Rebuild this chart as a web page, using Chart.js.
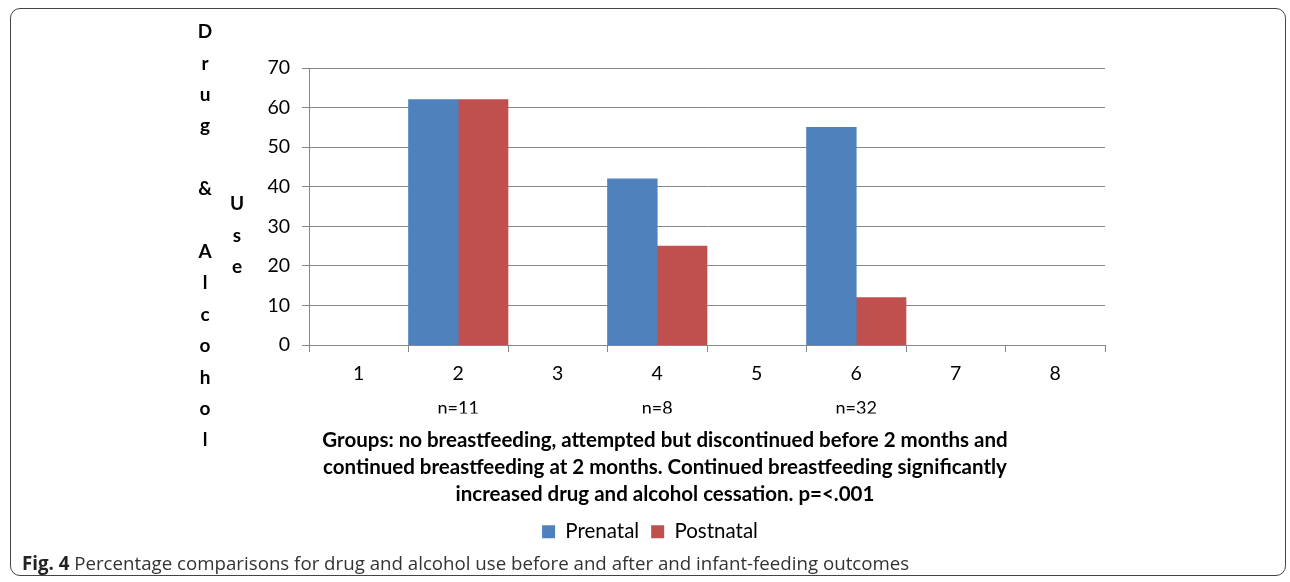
<!DOCTYPE html>
<html>
<head>
<meta charset="utf-8">
<script src="https://cdn.jsdelivr.net/npm/chart.js@4/dist/chart.umd.min.js"></script>
<style>
  html, body { margin: 0; padding: 0; background: #fff; }
  #wrap { position: relative; width: 1290px; height: 582px; overflow: hidden; }
  #frame {
    position: absolute; left: 10px; top: 8px; width: 1276px; height: 568px;
    border: 1px solid #444; border-radius: 10px; box-sizing: border-box;
  }
  #chart { position: absolute; left: 0; top: 0; }
  #caption {
    position: absolute; left: 22px; top: 550px;
    font-family: 'Open Sans', sans-serif; font-size: 18.7px; color: #333; white-space: nowrap;
  }
  #caption b { color: #222; }
</style>
</head>
<body>
<div id="wrap">
  <div id="frame"></div>
  <canvas id="chart" width="1290" height="582"></canvas>
  <div id="caption"><b>Fig. 4</b> Percentage comparisons for drug and alcohol use before and after and infant-feeding outcomes</div>
</div>
<script>
const categories = ['1', '2', '3', '4', '5', '6', '7', '8'];
const groupSizes = ['', 'n=11', '', 'n=8', '', 'n=32', '', ''];
const prenatal = [null, 62, null, 42, null, 55, null, null];
const postnatal = [null, 62, null, 25, null, 12, null, null];
const yMin = 0;
const yMax = 70;
const yStep = 10;
const yTitleCol1 = ['D', 'r', 'u', 'g', '', '&', '', 'A', 'l', 'c', 'o', 'h', 'o', 'l'];
const yTitleCol2 = ['U', 's', 'e'];
const xTitle = [
  'Groups: no breastfeeding, attempted but discontinued before 2 months and',
  'continued breastfeeding at 2 months. Continued breastfeeding significantly',
  'increased drug and alcohol cessation. p=<.001'
];

const FONT = 'Lato, sans-serif';

// Excel-style stacked vertical axis title, plus a small nudge of the bottom title
const stackedTitle = {
  id: 'stackedTitle',
  afterLayout(chart) {
    if (chart.titleBlock) chart.titleBlock.left += 30;
  },
  afterDraw(chart) {
    const ctx = chart.ctx;
    ctx.save();
    ctx.font = `bold 19px ${FONT}`;
    ctx.fillStyle = '#000';
    ctx.textAlign = 'center';
    ctx.textBaseline = 'middle';
    yTitleCol1.forEach((ch, i) => ctx.fillText(ch, 205, 32 + i * 31.4));
    yTitleCol2.forEach((ch, i) => ctx.fillText(ch, 237, 204 + i * 31.5));
    ctx.restore();
  }
};

new Chart(document.getElementById('chart'), {
  type: 'bar',
  data: {
    labels: categories,
    datasets: [
      { label: 'Prenatal', data: prenatal, backgroundColor: '#4F81BD' },
      { label: 'Postnatal', data: postnatal, backgroundColor: '#C0504D' }
    ]
  },
  options: {
    responsive: false,
    animation: false,
    barPercentage: 1,
    categoryPercentage: 1,
    layout: { padding: { left: 10, right: 0, top: 68, bottom: 30 } },
    plugins: {
      title: {
        display: true,
        position: 'bottom',
        weight: 500,
        text: xTitle,
        font: { family: FONT, size: 20.5, weight: 'bold', lineHeight: 1.3 },
        color: '#000',
        padding: { top: 14, bottom: 2 }
      },
      legend: {
        position: 'bottom',
        labels: { font: { family: FONT, size: 20.5 }, color: '#000', boxWidth: 13, boxHeight: 13, padding: 12 }
      },
      tooltip: { enabled: false }
    },
    scales: {
      y: {
        min: yMin,
        max: yMax,
        ticks: { stepSize: yStep, font: { family: FONT, size: 19.5 }, color: '#000', padding: 12 },
        grid: { color: '#878787', tickLength: 7 },
        border: { color: '#878787' },
        afterFit(scale) { scale.width = 299; }
      },
      y2: {
        type: 'linear',
        position: 'right',
        ticks: { display: false },
        grid: { display: false },
        border: { display: false },
        afterFit(scale) { scale.width = 185; }
      },
      x: {
        ticks: { font: { family: FONT, size: 19.5, lineHeight: 1 }, color: '#000', padding: 12 },
        grid: { color: '#878787', drawOnChartArea: false, tickLength: 7 },
        border: { color: '#878787' }
      },
      x2: {
        type: 'category',
        labels: groupSizes,
        position: 'bottom',
        ticks: { font: { family: FONT, size: 18, lineHeight: 1 }, color: '#000', padding: -4 },
        grid: { display: false },
        border: { display: false }
      }
    }
  },
  plugins: [stackedTitle]
});
</script>
</body>
</html>
